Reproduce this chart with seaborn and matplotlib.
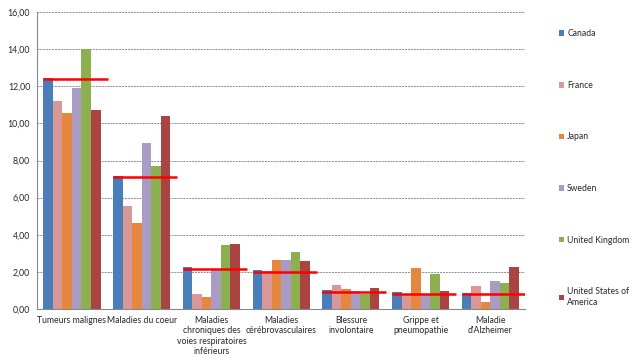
import numpy as np
import pandas as pd
import matplotlib
matplotlib.use("Agg")
import matplotlib.pyplot as plt
import seaborn as sns

# Data
causes = [
    "Tumeurs malignes",
    "Maladies du coeur",
    "Maladies\nchroniques des\nvoies respiratoires\ninférieurs",
    "Maladies\ncérébrovasculaires",
    "Blessure\ninvolontaire",
    "Grippe et\npneumopathie",
    "Maladie\nd'Alzheimer",
]
countries = ["Canada", "France", "Japan", "Sweden", "United Kingdom", "United States of\nAmerica"]

canada = [12.45, 7.17, 2.25, 2.10, 1.00, 0.90, 0.85]
france = [11.20, 5.55, 0.80, 2.05, 1.30, 0.75, 1.25]
japan = [10.56, 4.65, 0.65, 2.65, 1.10, 2.20, 0.35]
sweden = [11.90, 8.95, 2.10, 2.65, 0.95, 0.75, 1.50]
uk = [14.00, 7.70, 3.45, 3.05, 0.80, 1.90, 1.40]
usa = [10.72, 10.40, 3.50, 2.60, 1.15, 0.95, 2.25]
reference = [12.40, 7.10, 2.15, 2.00, 0.90, 0.80, 0.80]

colors = ["#4A7EBB", "#D99795", "#E6873E", "#A99BC4", "#8CB050", "#A94442"]

series = [canada, france, japan, sweden, uk, usa]
rows = []
for country, vals in zip(countries, series):
    for cause, v in zip(causes, vals):
        rows.append({"cause": cause, "country": country, "value": v})
df = pd.DataFrame(rows)

sns.set_style("white")
plt.rcParams["font.family"] = ["Lato", "DejaVu Sans"]

fig = plt.figure(figsize=(6.39, 3.58), dpi=100)
ax = fig.add_axes([0.058, 0.137, 0.764, 0.829])

sns.barplot(data=df, x="cause", y="value", hue="country", order=causes,
            hue_order=countries, palette=colors, width=0.82, saturation=1,
            gap=0, linewidth=0, edgecolor="none", ax=ax, legend=True)

# red reference line per group
for i, r in enumerate(reference):
    ax.hlines(r, i - 0.41, i + 0.51, color="#FF0000", linewidth=1.8, zorder=5)

ax.set_ylim(0, 16)
ax.set_xlim(-0.5, len(causes) - 0.5)
ticks = np.arange(0, 16.1, 2)
ax.set_yticks(ticks)
ax.set_yticklabels([f"{t:.2f}".replace(".", ",") for t in ticks], fontsize=6.3)
ax.yaxis.grid(True, linestyle=(0, (2, 1)), color="#8C8C8C", linewidth=0.7)
ax.set_axisbelow(True)
ax.tick_params(axis="x", length=0, labelsize=6.2, pad=5)
ax.tick_params(axis="y", length=3, color="#888888", pad=2)
for lbl in ax.get_xticklabels():
    lbl.set_linespacing(1.2)
ax.set_xticks(np.arange(-0.5, len(causes), 1), minor=True)
ax.tick_params(axis="x", which="minor", length=3, color="#888888")
ax.set_xlabel("")
ax.set_ylabel("")
for s in ["top", "right"]:
    ax.spines[s].set_visible(False)
for s in ["left", "bottom"]:
    ax.spines[s].set_color("#888888")
    ax.spines[s].set_linewidth(0.8)

handles, labels = ax.get_legend_handles_labels()
ax.get_legend().remove()
fig.legend(handles, labels, loc="upper left", bbox_to_anchor=(0.862, 0.94),
           frameon=False, fontsize=6.2, handlelength=0.6, handleheight=0.6,
           handletextpad=0.4, labelspacing=4.95)

fig.savefig("out.png", dpi=100)
